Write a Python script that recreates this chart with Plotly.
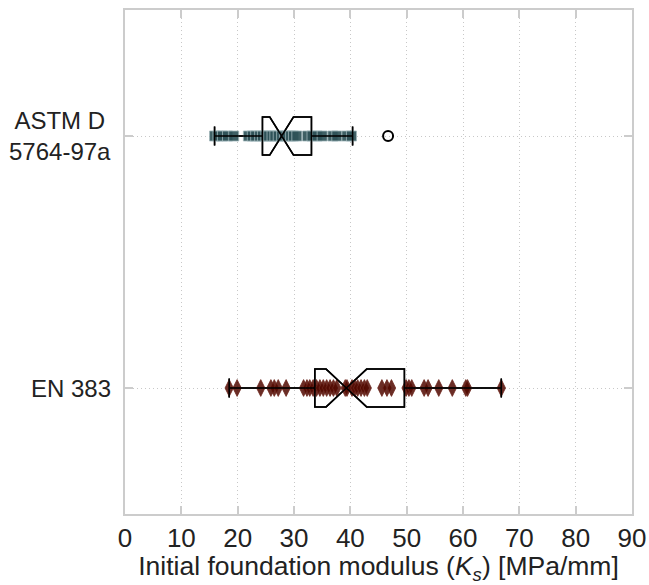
import plotly.graph_objects as go

categories = ["EN 383", "ASTM D 5764-97a"]
cat_labels = ["EN 383", "ASTM D<br>5764-97a"]

# sample values (MPa/mm)
astm_values = [15.9, 16.5, 17.3, 18.2, 19.3, 21.9, 22.6, 23.2, 23.9, 24.4,
               25.0, 25.5, 26.1, 26.6, 27.2, 27.8, 28.3, 28.8, 29.4, 29.9,
               30.5, 32.4, 33.2, 34.1, 35.0, 36.9, 37.6, 39.4, 40.2]
en_values = [18.5, 19.9, 24.1, 25.9, 26.5, 27.2, 28.6, 31.7, 32.3, 32.8,
             33.4, 34.0, 34.6, 35.2, 35.8, 36.4, 37.0, 37.6, 39.1, 39.4,
             40.3, 40.8, 41.3, 41.9, 42.5, 43.0, 45.6, 46.5, 47.3, 49.9,
             50.4, 50.9, 53.1, 53.8, 55.7, 58.1, 60.5, 60.8, 66.8]
astm_outliers = [46.7]

# box statistics
stat_q1 = [33.7, 24.4]
stat_median = [39.3, 27.8]
stat_q3 = [49.6, 33.1]
stat_lower = [18.5, 15.9]
stat_upper = [66.8, 40.4]
stat_notch = [3.6, 2.1]

BOX_W = 0.15
fig = go.Figure()

# white-filled box body (below points)
fig.add_trace(go.Box(
    y=categories, q1=stat_q1, median=stat_median, q3=stat_q3,
    lowerfence=stat_lower, upperfence=stat_upper, notchspan=stat_notch,
    notched=True, notchwidth=0.5, orientation="h", width=BOX_W,
    fillcolor="white", line=dict(color="black", width=1.5),
    boxpoints=False, showlegend=False, hoverinfo="skip"))

# sample points
for vals, cat, sym, col, lcol, size in [
    (astm_values, categories[1], "square", "rgba(47,82,88,0.92)", "rgba(160,182,186,0.8)", 10),
    (en_values, categories[0], "diamond-tall", "rgba(80,8,0,0.85)", "rgba(110,40,30,0.8)", 12),
]:
    fig.add_trace(go.Box(
        x=vals, y=[cat] * len(vals), orientation="h", width=BOX_W,
        boxpoints="all", jitter=0, pointpos=0,
        fillcolor="rgba(0,0,0,0)", line=dict(color="rgba(0,0,0,0)", width=0),
        marker=dict(symbol=sym, size=size, color=col, line=dict(color=lcol, width=1)),
        showlegend=False, hoverinfo="x"))

# box outline on top of points
fig.add_trace(go.Box(
    y=categories, q1=stat_q1, median=stat_median, q3=stat_q3,
    lowerfence=stat_lower, upperfence=stat_upper, notchspan=stat_notch,
    notched=True, notchwidth=0.5, orientation="h", width=BOX_W,
    fillcolor="rgba(0,0,0,0)", line=dict(color="black", width=1.5),
    boxpoints=False, showlegend=False, hoverinfo="skip"))

# outlier
fig.add_trace(go.Scatter(
    x=astm_outliers, y=[categories[1]] * len(astm_outliers), mode="markers",
    marker=dict(symbol="circle-open", size=10, color="black", line=dict(width=2)),
    showlegend=False, cliponaxis=False))

for cat, lab in zip(categories, cat_labels):
    fig.add_annotation(x=-0.0237, xref="paper", y=cat, yref="y", text=lab,
                       showarrow=False, xanchor="right", yanchor="middle",
                       align="center", font=dict(size=24, color="#222"))

axis_common = dict(
    ticks="inside", ticklen=8, tickwidth=2, tickcolor="#cccccc",
    showline=True, linecolor="#cccccc", linewidth=2, mirror="ticks",
    showgrid=True, gridcolor="#c8c8c8", griddash="1px,3px", gridwidth=1,
    zeroline=False, automargin=False)

fig.update_layout(
    width=649, height=585,
    margin=dict(l=125, r=17, t=10, b=71, autoexpand=False),
    paper_bgcolor="white", plot_bgcolor="white",
    font=dict(family="Liberation Sans, Arial, sans-serif", size=26, color="#222"),
    boxmode="overlay",
    xaxis=dict(range=[0, 90], dtick=10, tick0=0,
               tickfont=dict(size=26, color="#222"),
               title=dict(text="Initial foundation modulus (<i>K<sub>s</sub></i>) [MPa/mm]",
                          font=dict(size=26.5, color="#222"), standoff=4),
               **axis_common),
    yaxis=dict(type="category", categoryorder="array", categoryarray=categories,
               range=[-0.5, 1.5], showticklabels=False, **axis_common),
)

fig.write_html("out.html", config={"displayModeBar": False},
               post_script="document.body.style.margin='0px';")
